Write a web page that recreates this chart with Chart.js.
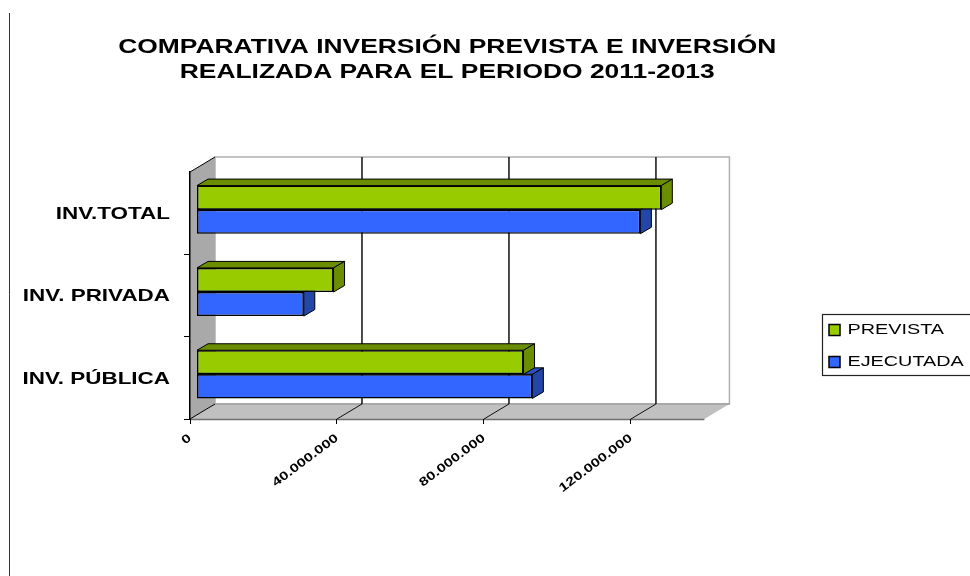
<!DOCTYPE html>
<html>
<head>
<meta charset="utf-8">
<title>Comparativa inversión</title>
<script src="https://cdn.jsdelivr.net/npm/chart.js@4"></script>
<style>
  html, body { margin: 0; background: #fff; }
  canvas { display: block; }
</style>
</head>
<body>
<canvas id="chart" width="970" height="576"></canvas>
<script>
const categories = ['INV.TOTAL', 'INV. PRIVADA', 'INV. PÚBLICA'];
const prevista = [126500000, 37300000, 89000000];
const ejecutada = [120800000, 29200000, 91400000];
const tickValues = [0, 40000000, 80000000, 120000000];
const titleLines = ['COMPARATIVA INVERSIÓN PREVISTA E INVERSIÓN', 'REALIZADA PARA EL PERIODO 2011-2013'];

const FONT = '"Liberation Sans", Arial, sans-serif';
const WALL_X = 25, WALL_Y = 15;   // depth of the 3d box
const BAR_X = 11, BAR_Y = 6.5;    // depth of each bar
const SHIFT_X = 6.5, SHIFT_Y = -3.5; // bars sit in the middle of the box
const TEXT_STRETCH = 1.32;        // the original picture is stretched sideways

const canvas = document.getElementById('chart');
const context = canvas.getContext('2d');

// every label is drawn wider than the font, along its own baseline
const plainFillText = context.fillText.bind(context);
context.fillText = function (text, x, y) {
  context.save();
  context.translate(x, y);
  context.scale(TEXT_STRETCH, 1);
  plainFillText(text, 0, 0);
  context.restore();
};

function poly(ctx, pts, fill, stroke, lw) {
  ctx.beginPath();
  pts.forEach((p, i) => i ? ctx.lineTo(p[0], p[1]) : ctx.moveTo(p[0], p[1]));
  ctx.closePath();
  if (fill) { ctx.fillStyle = fill; ctx.fill(); }
  if (stroke) { ctx.strokeStyle = stroke; ctx.lineWidth = lw || 1; ctx.stroke(); }
}

function line(ctx, x1, y1, x2, y2, color, lw) {
  ctx.beginPath();
  ctx.moveTo(x1, y1);
  ctx.lineTo(x2, y2);
  ctx.strokeStyle = color;
  ctx.lineWidth = lw;
  ctx.stroke();
}

const box3d = {
  id: 'box3d',
  afterLayout(chart) {
    // legend goes over to the right edge, chart area keeps its size
    const lg = chart.legend;
    const h = lg.bottom - lg.top;
    lg.left = 812; lg.right = 970;
    lg.top = 346 - h / 2; lg.bottom = 346 + h / 2;
  },
  beforeDraw(chart) {
    const ctx = chart.ctx;
    const a = chart.chartArea, xs = chart.scales.x;
    ctx.save();
    // stray line at the left of the page
    line(ctx, 9.5, 13, 9.5, 576, '#333', 1);
    // back wall
    ctx.fillStyle = '#fff';
    ctx.fillRect(a.left + WALL_X, a.top - WALL_Y, a.right - a.left, a.bottom - a.top);
    ctx.strokeStyle = '#b0b0b0';
    ctx.lineWidth = 1.5;
    ctx.strokeRect(a.left + WALL_X, a.top - WALL_Y, a.right - a.left, a.bottom - a.top);
    // floor
    poly(ctx, [[a.left, a.bottom], [a.left + WALL_X, a.bottom - WALL_Y],
      [a.right + WALL_X, a.bottom - WALL_Y], [a.right, a.bottom]], '#c0c0c0');
    line(ctx, a.left + WALL_X, a.bottom - WALL_Y, a.right + WALL_X, a.bottom - WALL_Y, '#909090', 1);
    line(ctx, a.left, a.bottom + 0.5, a.right, a.bottom + 0.5, '#707070', 1.5);
    // side wall
    poly(ctx, [[a.left, a.top], [a.left + WALL_X, a.top - WALL_Y],
      [a.left + WALL_X, a.bottom - WALL_Y], [a.left, a.bottom]], '#a9a9a9');
    line(ctx, a.left, a.top, a.left + WALL_X, a.top - WALL_Y, '#000', 1);
    line(ctx, a.left, a.bottom, a.left + WALL_X, a.bottom - WALL_Y, '#000', 1);
    // grid lines on wall and floor
    xs.ticks.forEach(t => {
      if (t.value === 0) return;
      const x = xs.getPixelForValue(t.value);
      line(ctx, x + WALL_X, a.top - WALL_Y, x + WALL_X, a.bottom - WALL_Y, '#111', 1.5);
      line(ctx, x, a.bottom, x + WALL_X, a.bottom - WALL_Y, '#111', 1);
    });
    ctx.restore();
  },
  beforeDatasetsDraw(chart) {
    const ctx = chart.ctx;
    ctx.save();
    ctx.translate(SHIFT_X, SHIFT_Y);
    // top and end faces first, the library paints the front faces over them
    for (let d = chart.data.datasets.length - 1; d >= 0; d--) {
      const ds = chart.data.datasets[d];
      chart.getDatasetMeta(d).data.forEach(bar => {
        const x0 = bar.base, x1 = bar.x;
        const y0 = bar.y - bar.height / 2, y1 = bar.y + bar.height / 2;
        poly(ctx, [[x0, y0], [x0 + BAR_X, y0 - BAR_Y], [x1 + BAR_X, y0 - BAR_Y], [x1, y0]], ds.topColor, '#000', 1);
        poly(ctx, [[x1, y0], [x1 + BAR_X, y0 - BAR_Y], [x1 + BAR_X, y1 - BAR_Y], [x1, y1]], ds.sideColor, '#000', 1);
      });
    }
  },
  afterDatasetsDraw(chart) {
    chart.ctx.restore();
  },
  afterDraw(chart) {
    // legend frame, runs off the right edge like the original
    const ctx = chart.ctx;
    ctx.save();
    ctx.strokeStyle = '#222';
    ctx.lineWidth = 1.2;
    ctx.strokeRect(822.5, 314.5, 160, 61);
    ctx.restore();
  }
};

new Chart(canvas, {
  type: 'bar',
  data: {
    labels: categories,
    datasets: [
      { label: 'PREVISTA', data: prevista, backgroundColor: '#99cc00', topColor: '#6b8e00', sideColor: '#6b8e00',
        borderColor: '#000', borderWidth: 1.5, borderSkipped: false, clip: false },
      { label: 'EJECUTADA', data: ejecutada, backgroundColor: '#3366ff', topColor: '#2a52c8', sideColor: '#2347a8',
        borderColor: '#000', borderWidth: 1.5, borderSkipped: false, clip: false }
    ]
  },
  options: {
    indexAxis: 'y',
    responsive: false,
    animation: false,
    barPercentage: 1,
    categoryPercentage: 0.585,
    layout: { padding: { top: 0, right: 132, bottom: 0, left: 0 } },
    plugins: {
      tooltip: { enabled: false },
      title: {
        display: true,
        text: titleLines,
        color: '#000',
        fullSize: false,
        font: { family: FONT, size: 20, weight: 'bold', lineHeight: 1.25 },
        padding: { top: 35, bottom: 87 }
      },
      legend: {
        position: 'right',
        labels: {
          color: '#000',
          font: { family: FONT, size: 15 },
          boxWidth: 11,
          boxHeight: 11,
          padding: 17
        }
      }
    },
    scales: {
      x: {
        min: 0,
        max: 140000000,
        afterFit(s) { s.height = 157; },
        afterBuildTicks(s) { s.ticks = tickValues.map(v => ({ value: v })); },
        border: { display: false },
        grid: { drawOnChartArea: false, tickLength: 5, color: '#000' },
        ticks: {
          minRotation: 37,
          maxRotation: 37,
          autoSkip: false,
          padding: 7,
          color: '#000',
          font: { family: FONT, size: 12, weight: 'bold' },
          callback: v => String(v).replace(/\B(?=(\d{3})+$)/g, '.')
        }
      },
      y: {
        afterFit(s) { s.width = 190; },
        border: { color: '#000', width: 1.5 },
        grid: { drawOnChartArea: false, tickLength: 6, color: c => c.index === 0 ? 'transparent' : '#000' },
        ticks: {
          padding: 14,
          labelOffset: 1,
          color: '#000',
          font: { family: FONT, size: 17, weight: 'bold' }
        }
      }
    }
  },
  plugins: [box3d]
});
</script>
</body>
</html>
